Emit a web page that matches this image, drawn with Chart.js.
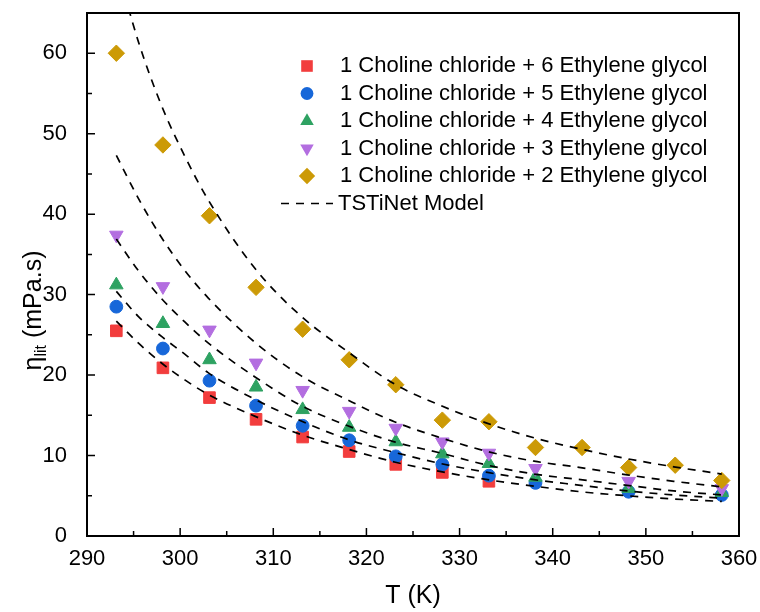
<!DOCTYPE html>
<html>
<head>
<meta charset="utf-8">
<script src="https://cdn.jsdelivr.net/npm/chart.js@4.4.0/dist/chart.umd.min.js"></script>
<style>
  html, body { margin: 0; padding: 0; background: #fff; }
  #wrap { width: 760px; height: 612px; }
</style>
</head>
<body>
<div id="wrap"><canvas id="chart" width="760" height="612"></canvas></div>
<script>
// measured temperatures (K)
const tempAll  = [293.15, 298.15, 303.15, 308.15, 313.15, 318.15, 323.15, 328.15, 333.15, 338.15, 343.15, 348.15, 353.15, 358.15];
const tempMain = [293.15, 298.15, 303.15, 308.15, 313.15, 318.15, 323.15, 328.15, 333.15, 338.15, 348.15, 358.15];
const tempRed  = [293.15, 298.15, 303.15, 308.15, 313.15, 318.15, 323.15, 328.15, 333.15];

// literature viscosity (mPa.s)
const eta16 = [25.5, 20.9, 17.2, 14.5, 12.3, 10.5, 8.9, 7.9, 6.8];
const eta15 = [28.5, 23.3, 19.3, 16.2, 13.7, 11.9, 9.9, 8.9, 7.5, 6.6, 5.5, 5.1];
const eta14 = [31.2, 26.4, 21.9, 18.5, 15.7, 13.5, 11.7, 10.2, 9.0, 7.3, 5.9, 5.4];
const eta13 = [37.4, 31.0, 25.6, 21.5, 18.1, 15.5, 13.4, 11.7, 10.3, 8.4, 6.8, 5.9];
const eta12 = [60.0, 48.6, 39.8, 30.9, 25.7, 21.9, 18.8, 14.4, 14.2, 11.0, 11.0, 8.5, 8.8, 6.9];

// TSTiNet model curves, read at these temperatures
const tModel = [293.15, 295.5, 298, 300.5, 303, 308, 313, 318, 323, 328, 333, 338, 343, 348, 353, 358.15];
const mdl12 = [71.0, 61.5, 53.5, 47.2, 41.8, 33.3, 27.3, 22.9, 18.9, 16.2, 14.0, 12.2, 10.8, 9.6, 8.6, 7.7];
const mdl13 = [47.3, 42.0, 37.1, 33.0, 29.6, 24.1, 19.9, 16.9, 14.2, 12.2, 10.5, 9.3, 8.5, 7.6, 6.8, 6.1];
const mdl14 = [36.9, 33.0, 29.5, 26.6, 24.0, 19.8, 16.2, 13.7, 11.7, 10.3, 8.8, 7.7, 7.0, 6.3, 5.6, 5.1];
const mdl15 = [30.4, 27.3, 24.8, 22.6, 20.3, 17.0, 14.3, 12.0, 10.4, 9.0, 7.9, 7.0, 6.3, 5.6, 5.1, 4.7];
const mdl16 = [26.7, 24.0, 21.5, 19.4, 17.6, 14.9, 12.6, 10.8, 9.2, 8.0, 7.0, 6.2, 5.5, 5.0, 4.6, 4.3];

const xTicks = [290, 300, 310, 320, 330, 340, 350, 360];
const xMinor = [295, 305, 315, 325, 335, 345, 355];
const yTicks = [0, 10, 20, 30, 40, 50, 60];
const yMinor = [5, 15, 25, 35, 45, 55];

const FONT = "'Liberation Sans', Arial, sans-serif";
const RED = '#f23d3d', BLUE = '#1767d9', GREEN = '#2ea262', PURPLE = '#b36ee0', GOLD = '#cc9a06';

const pts = (xs, ys) => ys.map((v, i) => ({x: xs[i], y: v}));

const series = [
  {label: '1 Choline chloride + 6 Ethylene glycol', xs: tempRed,  ys: eta16, color: RED,    style: 'rect',     r: 8.2, rot: 0,   order: 5},
  {label: '1 Choline chloride + 5 Ethylene glycol', xs: tempMain, ys: eta15, color: BLUE,   style: 'circle',   r: 6.4, rot: 0,   order: 4},
  {label: '1 Choline chloride + 4 Ethylene glycol', xs: tempMain, ys: eta14, color: GREEN,  style: 'triangle', r: 7.8, rot: 0,   order: 3},
  {label: '1 Choline chloride + 3 Ethylene glycol', xs: tempMain, ys: eta13, color: PURPLE, style: 'triangle', r: 7.8, rot: 180, order: 2},
  {label: '1 Choline chloride + 2 Ethylene glycol', xs: tempAll,  ys: eta12, color: GOLD,   style: 'rectRot',  r: 8.2, rot: 0,   order: 1}
];
const models = [mdl12, mdl13, mdl14, mdl15, mdl16];

const datasets = series.map(s => ({
  label: s.label,
  data: pts(s.xs, s.ys),
  pointStyle: s.style,
  pointRadius: s.r,
  rotation: s.rot,
  backgroundColor: s.color,
  borderColor: s.color,
  borderWidth: 1,
  showLine: false,
  order: s.order
})).concat(models.map(m => ({
  type: 'line',
  label: 'TSTiNet Model',
  data: pts(tModel, m),
  borderColor: '#000',
  borderWidth: 1.7,
  borderDash: [8, 7],
  pointRadius: 0,
  fill: false,
  cubicInterpolationMode: 'monotone',
  order: 0
})));

function drawMarker(ctx, s, cx, cy) {
  const r = s.r;
  ctx.fillStyle = s.color;
  ctx.beginPath();
  if (s.style === 'rect') {
    const h = r * Math.SQRT1_2;
    ctx.rect(cx - h, cy - h, 2 * h, 2 * h);
  } else if (s.style === 'circle') {
    ctx.arc(cx, cy, r, 0, Math.PI * 2);
  } else if (s.style === 'triangle') {
    const d = s.rot ? -1 : 1;
    ctx.moveTo(cx, cy - d * r);
    ctx.lineTo(cx + r * Math.sin(Math.PI * 2 / 3), cy + d * r / 2);
    ctx.lineTo(cx - r * Math.sin(Math.PI * 2 / 3), cy + d * r / 2);
    ctx.closePath();
  } else {
    ctx.moveTo(cx, cy - r); ctx.lineTo(cx + r, cy); ctx.lineTo(cx, cy + r); ctx.lineTo(cx - r, cy);
    ctx.closePath();
  }
  ctx.fill();
}

const decor = {
  id: 'decor',
  afterDraw(chart) {
    const {ctx, chartArea: a, scales: {x, y}} = chart;
    ctx.save();
    // frame
    ctx.strokeStyle = '#000';
    ctx.lineWidth = 2;
    ctx.strokeRect(a.left, a.top, a.right - a.left, a.bottom - a.top);
    // inward ticks on bottom and left
    ctx.lineWidth = 1.5;
    ctx.beginPath();
    xTicks.forEach(v => { const p = x.getPixelForValue(v); ctx.moveTo(p, a.bottom); ctx.lineTo(p, a.bottom - 8); });
    xMinor.forEach(v => { const p = x.getPixelForValue(v); ctx.moveTo(p, a.bottom); ctx.lineTo(p, a.bottom - 5); });
    yTicks.forEach(v => { const p = y.getPixelForValue(v); ctx.moveTo(a.left, p); ctx.lineTo(a.left + 8, p); });
    yMinor.forEach(v => { const p = y.getPixelForValue(v); ctx.moveTo(a.left, p); ctx.lineTo(a.left + 5, p); });
    ctx.stroke();

    // axis titles
    ctx.fillStyle = '#000';
    ctx.textBaseline = 'middle';
    ctx.textAlign = 'center';
    ctx.font = '25px ' + FONT;
    ctx.fillText('T (K)', (a.left + a.right) / 2, 596);

    ctx.save();
    ctx.translate(34, (a.top + a.bottom) / 2 + 36);
    ctx.rotate(-Math.PI / 2);
    const big = '25px ' + FONT, small = '16px ' + FONT;
    ctx.font = big; const w1 = ctx.measureText('η').width;
    ctx.font = small; const w2 = ctx.measureText('lit').width;
    ctx.font = big; const w3 = ctx.measureText(' (mPa.s)').width;
    let tx = -(w1 + w2 + w3) / 2;
    ctx.textAlign = 'left';
    ctx.font = big; ctx.fillText('η', tx, 0); tx += w1;
    ctx.font = small; ctx.fillText('lit', tx, 8); tx += w2;
    ctx.font = big; ctx.fillText(' (mPa.s)', tx, 0);
    ctx.restore();

    // legend
    ctx.font = '22px ' + FONT;
    ctx.textAlign = 'left';
    series.forEach((s, i) => {
      const ly = 66 + i * 27.5;
      drawMarker(ctx, s, 307, ly);
      ctx.fillStyle = '#000';
      ctx.fillText(s.label, 340, ly);
    });
    const my = 66 + 5 * 27.5;
    ctx.strokeStyle = '#000';
    ctx.lineWidth = 1.7;
    ctx.setLineDash([8, 7]);
    ctx.beginPath(); ctx.moveTo(281, my); ctx.lineTo(333, my); ctx.stroke();
    ctx.setLineDash([]);
    ctx.fillText('TSTiNet Model', 338, my);
    ctx.restore();
  }
};

new Chart(document.getElementById('chart'), {
  type: 'scatter',
  data: {datasets},
  options: {
    responsive: false,
    animation: false,
    layout: {padding: {top: 13, right: 21, left: 0, bottom: 0}},
    plugins: {legend: {display: false}, tooltip: {enabled: false}},
    scales: {
      x: {
        type: 'linear', min: 290, max: 360,
        afterBuildTicks: s => { s.ticks = xTicks.map(v => ({value: v})); },
        afterFit: s => { s.height = 76; s.paddingLeft = 0; s.paddingRight = 0; },
        grid: {display: false},
        border: {display: false},
        ticks: {color: '#000', padding: 2, maxRotation: 0, font: {size: 22, family: FONT}}
      },
      y: {
        type: 'linear', min: 0, max: 65,
        afterBuildTicks: s => { s.ticks = yTicks.map(v => ({value: v})); },
        afterFit: s => { s.width = 87; s.paddingTop = 0; s.paddingBottom = 0; },
        grid: {display: false},
        border: {display: false},
        ticks: {color: '#000', padding: 12, font: {size: 22, family: FONT}}
      }
    }
  },
  plugins: [decor]
});
</script>
</body>
</html>
